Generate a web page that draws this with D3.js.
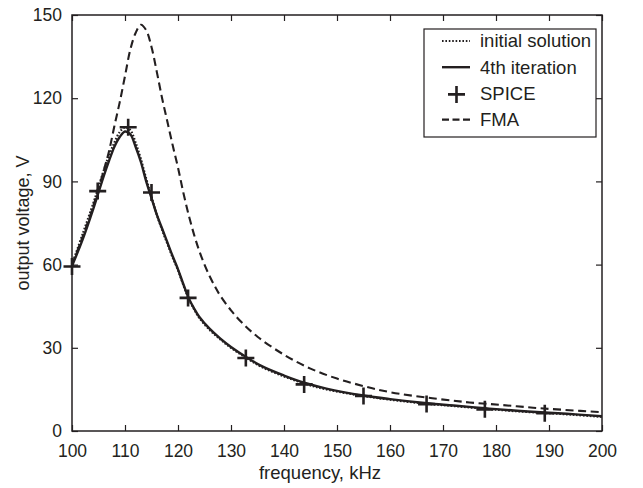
<!DOCTYPE html>
<html>
<head>
<meta charset="utf-8">
<script src="https://cdn.jsdelivr.net/npm/d3@7"></script>
<style>
  body { margin: 0; background: #fff; }
  svg { font-family: 'Liberation Sans', Arial, sans-serif; }
</style>
</head>
<body>
<svg id="chart" width="643" height="488"></svg>
<script>
// curve frequencies (kHz) and values (V)
var iterFreq = [100, 102, 104, 105, 106, 107, 108, 109, 110, 111, 112, 113, 114, 115, 116, 117, 118, 119, 120, 121, 122, 123, 124, 126, 128, 130, 133, 136, 140, 144, 148, 155, 160, 167, 172, 178, 184, 190, 195, 200];
var iterVolt = [59.5, 69, 80, 86, 92, 97.5, 102.5, 106, 108, 107, 102.5, 97, 90, 84, 78, 73, 68, 63, 58.3, 53, 48, 44.3, 41.2, 36.8, 33.3, 30.3, 26.5, 23.2, 20, 17.3, 15.3, 12.8, 11.5, 10, 9.2, 8.2, 7.3, 6.6, 6, 5.3];

var initFreq = [100, 102, 104, 105, 106, 107, 108, 109, 110, 111, 112, 113, 114, 115, 116, 117, 118, 119, 120, 121, 122, 123, 124, 126, 128, 130, 133, 136, 140, 144, 148, 155, 160, 167, 172, 178, 184, 190, 195, 200];
var initVolt = [60, 71, 82, 88, 94, 99.5, 104, 107.8, 109.5, 108.5, 104, 98, 91, 84.5, 78, 72.5, 67.5, 62.5, 58, 52.7, 47.7, 44, 40.8, 36.4, 33, 30, 26.2, 22.9, 19.7, 17, 15, 12.6, 11.3, 9.8, 9, 8, 7.1, 6.4, 5.8, 5.1];

var fmaFreq = [100, 102, 104, 106, 107, 108, 109, 110, 111, 112, 113, 114, 115, 116, 117, 118, 119, 120, 121, 122, 123, 124, 125, 126, 127, 128, 130, 132, 135, 140, 145, 150, 155, 160, 168, 175, 181, 187, 193, 200];
var fmaVolt = [60, 70, 81, 94, 101, 110, 118.5, 128, 137.5, 143.5, 146.5, 144.5, 138.5, 129.5, 120, 111.5, 103, 95, 86, 78, 71, 65, 60, 55.7, 52, 48.7, 43.5, 39.2, 34, 27.5, 22.5, 18.9, 16.2, 14, 11.8, 10.3, 9.4, 8.4, 7.6, 6.8];

var spiceFreq = [100, 104.85, 110.6, 115, 121.9, 132.8, 143.8, 155, 166.9, 177.9, 189.2];
var spiceVolt = [59.3, 86.5, 109.5, 86, 48, 26.3, 16.8, 12.6, 9.7, 7.8, 6.4];

var xTicks = [100, 110, 120, 130, 140, 150, 160, 170, 180, 190, 200];
var yTicks = [0, 30, 60, 90, 120, 150];

var legendLabels = ['initial solution', '4th iteration', 'SPICE', 'FMA'];

var svg = d3.select('#chart');
var ink = '#231f20';

var padding = { left: 72, right: 602, top: 15, bottom: 431 };

var xScale = d3.scaleLinear()
                .domain([100, 200])
                .range([padding.left, padding.right]);

var yScale = d3.scaleLinear()
                .domain([0, 150])
                .range([padding.bottom, padding.top]);

function pairs(f, v) {
    return f.map((d, i) => [d, v[i]]);
}

svg.append('clipPath')
    .attr('id', 'plot-clip')
    .append('rect')
        .attr('x', padding.left)
        .attr('y', padding.top)
        .attr('width', padding.right - padding.left)
        .attr('height', padding.bottom - padding.top);

// axes with inward ticks
var xAxis = d3.axisBottom(xScale).tickValues(xTicks).tickSizeInner(-6).tickSizeOuter(0).tickPadding(13.5);
var yAxis = d3.axisLeft(yScale).tickValues(yTicks).tickSizeInner(-6).tickSizeOuter(0).tickPadding(10);

var gx = svg.append('g')
    .attr('transform', `translate(0, ${padding.bottom})`)
    .call(xAxis);
var gy = svg.append('g')
    .attr('transform', `translate(${padding.left}, 0)`)
    .call(yAxis);
var gxTop = svg.append('g')
    .attr('transform', `translate(0, ${padding.top})`)
    .call(d3.axisTop(xScale).tickValues(xTicks).tickSizeInner(-6).tickSizeOuter(0).tickFormat(''));
var gyRight = svg.append('g')
    .attr('transform', `translate(${padding.right}, 0)`)
    .call(d3.axisRight(yScale).tickValues(yTicks).tickSizeInner(-6).tickSizeOuter(0).tickFormat(''));

[gx, gy, gxTop, gyRight].forEach(g => {
    g.select('.domain').remove();
    g.selectAll('line').attr('stroke', ink).attr('stroke-width', 1.2);
    g.selectAll('text').attr('fill', ink).style('font-size', '17.5px');
});

svg.append('rect')
    .attr('x', padding.left)
    .attr('y', padding.top)
    .attr('width', padding.right - padding.left)
    .attr('height', padding.bottom - padding.top)
    .attr('fill', 'none')
    .attr('stroke', ink)
    .attr('stroke-width', 1.5);

// axis labels
svg.append('text')
    .attr('x', 320)
    .attr('y', 479)
    .attr('fill', ink)
    .style('font-size', '18.5px')
    .style('text-anchor', 'middle')
    .text('frequency, kHz');

svg.append('text')
    .attr('transform', 'rotate(-90)')
    .attr('x', -223)
    .attr('y', 29)
    .attr('fill', ink)
    .style('font-size', '18px')
    .style('text-anchor', 'middle')
    .text('output voltage, V');

// curves
var line = d3.line()
                .x(d => xScale(d[0]))
                .y(d => yScale(d[1]))
                .curve(d3.curveCatmullRom);

var plot = svg.append('g').attr('clip-path', 'url(#plot-clip)');

var styles = [
    { dash: '1.6,1.8', width: 2.2 },
    { dash: null, width: 2.4 },
    null,
    { dash: '8,4.5', width: 2.1 }
];

plot.append('path')
    .datum(pairs(fmaFreq, fmaVolt))
    .attr('d', line)
    .attr('fill', 'none')
    .attr('stroke', ink)
    .attr('stroke-width', styles[3].width)
    .attr('stroke-dasharray', styles[3].dash);

plot.append('path')
    .datum(pairs(initFreq, initVolt))
    .attr('d', line)
    .attr('fill', 'none')
    .attr('stroke', ink)
    .attr('stroke-width', styles[0].width)
    .attr('stroke-dasharray', styles[0].dash);

plot.append('path')
    .datum(pairs(iterFreq, iterVolt))
    .attr('d', line)
    .attr('fill', 'none')
    .attr('stroke', ink)
    .attr('stroke-width', styles[1].width);

var crossPath = 'M-8.5,0H8.5M0,-8.5V8.5';

svg.selectAll('.spice')
    .data(pairs(spiceFreq, spiceVolt))
    .enter()
    .append('path')
        .classed('spice', true)
        .attr('transform', d => `translate(${xScale(d[0])}, ${yScale(d[1])})`)
        .attr('d', crossPath)
        .attr('fill', 'none')
        .attr('stroke', ink)
        .attr('stroke-width', 2.6);

// legend
var legend = svg.append('g');

legend.append('rect')
    .attr('x', 424)
    .attr('y', 29)
    .attr('width', 172)
    .attr('height', 108)
    .attr('fill', '#fff')
    .attr('stroke', ink)
    .attr('stroke-width', 1.2);

var items = legend.selectAll('.legend-item')
    .data(legendLabels)
    .enter()
    .append('g')
        .classed('legend-item', true)
        .attr('transform', (d, i) => `translate(0, ${41 + i * 26.2})`);

items.each(function(d, i) {
    var g = d3.select(this);
    if (i === 2) {
        g.append('path')
            .attr('transform', 'translate(456.5, 1)')
            .attr('d', crossPath)
            .attr('fill', 'none')
            .attr('stroke', ink)
            .attr('stroke-width', 2.6);
    } else {
        g.append('line')
            .attr('x1', 442)
            .attr('x2', 470)
            .attr('y1', 0)
            .attr('y2', 0)
            .attr('stroke', ink)
            .attr('stroke-width', styles[i].width)
            .attr('stroke-dasharray', i === 3 ? '7,3.5' : styles[i].dash);
    }
    g.append('text')
        .attr('x', 480)
        .attr('y', 0)
        .attr('dy', '0.35em')
        .attr('fill', ink)
        .style('font-size', '18.5px')
        .text(d);
});
</script>
</body>
</html>
